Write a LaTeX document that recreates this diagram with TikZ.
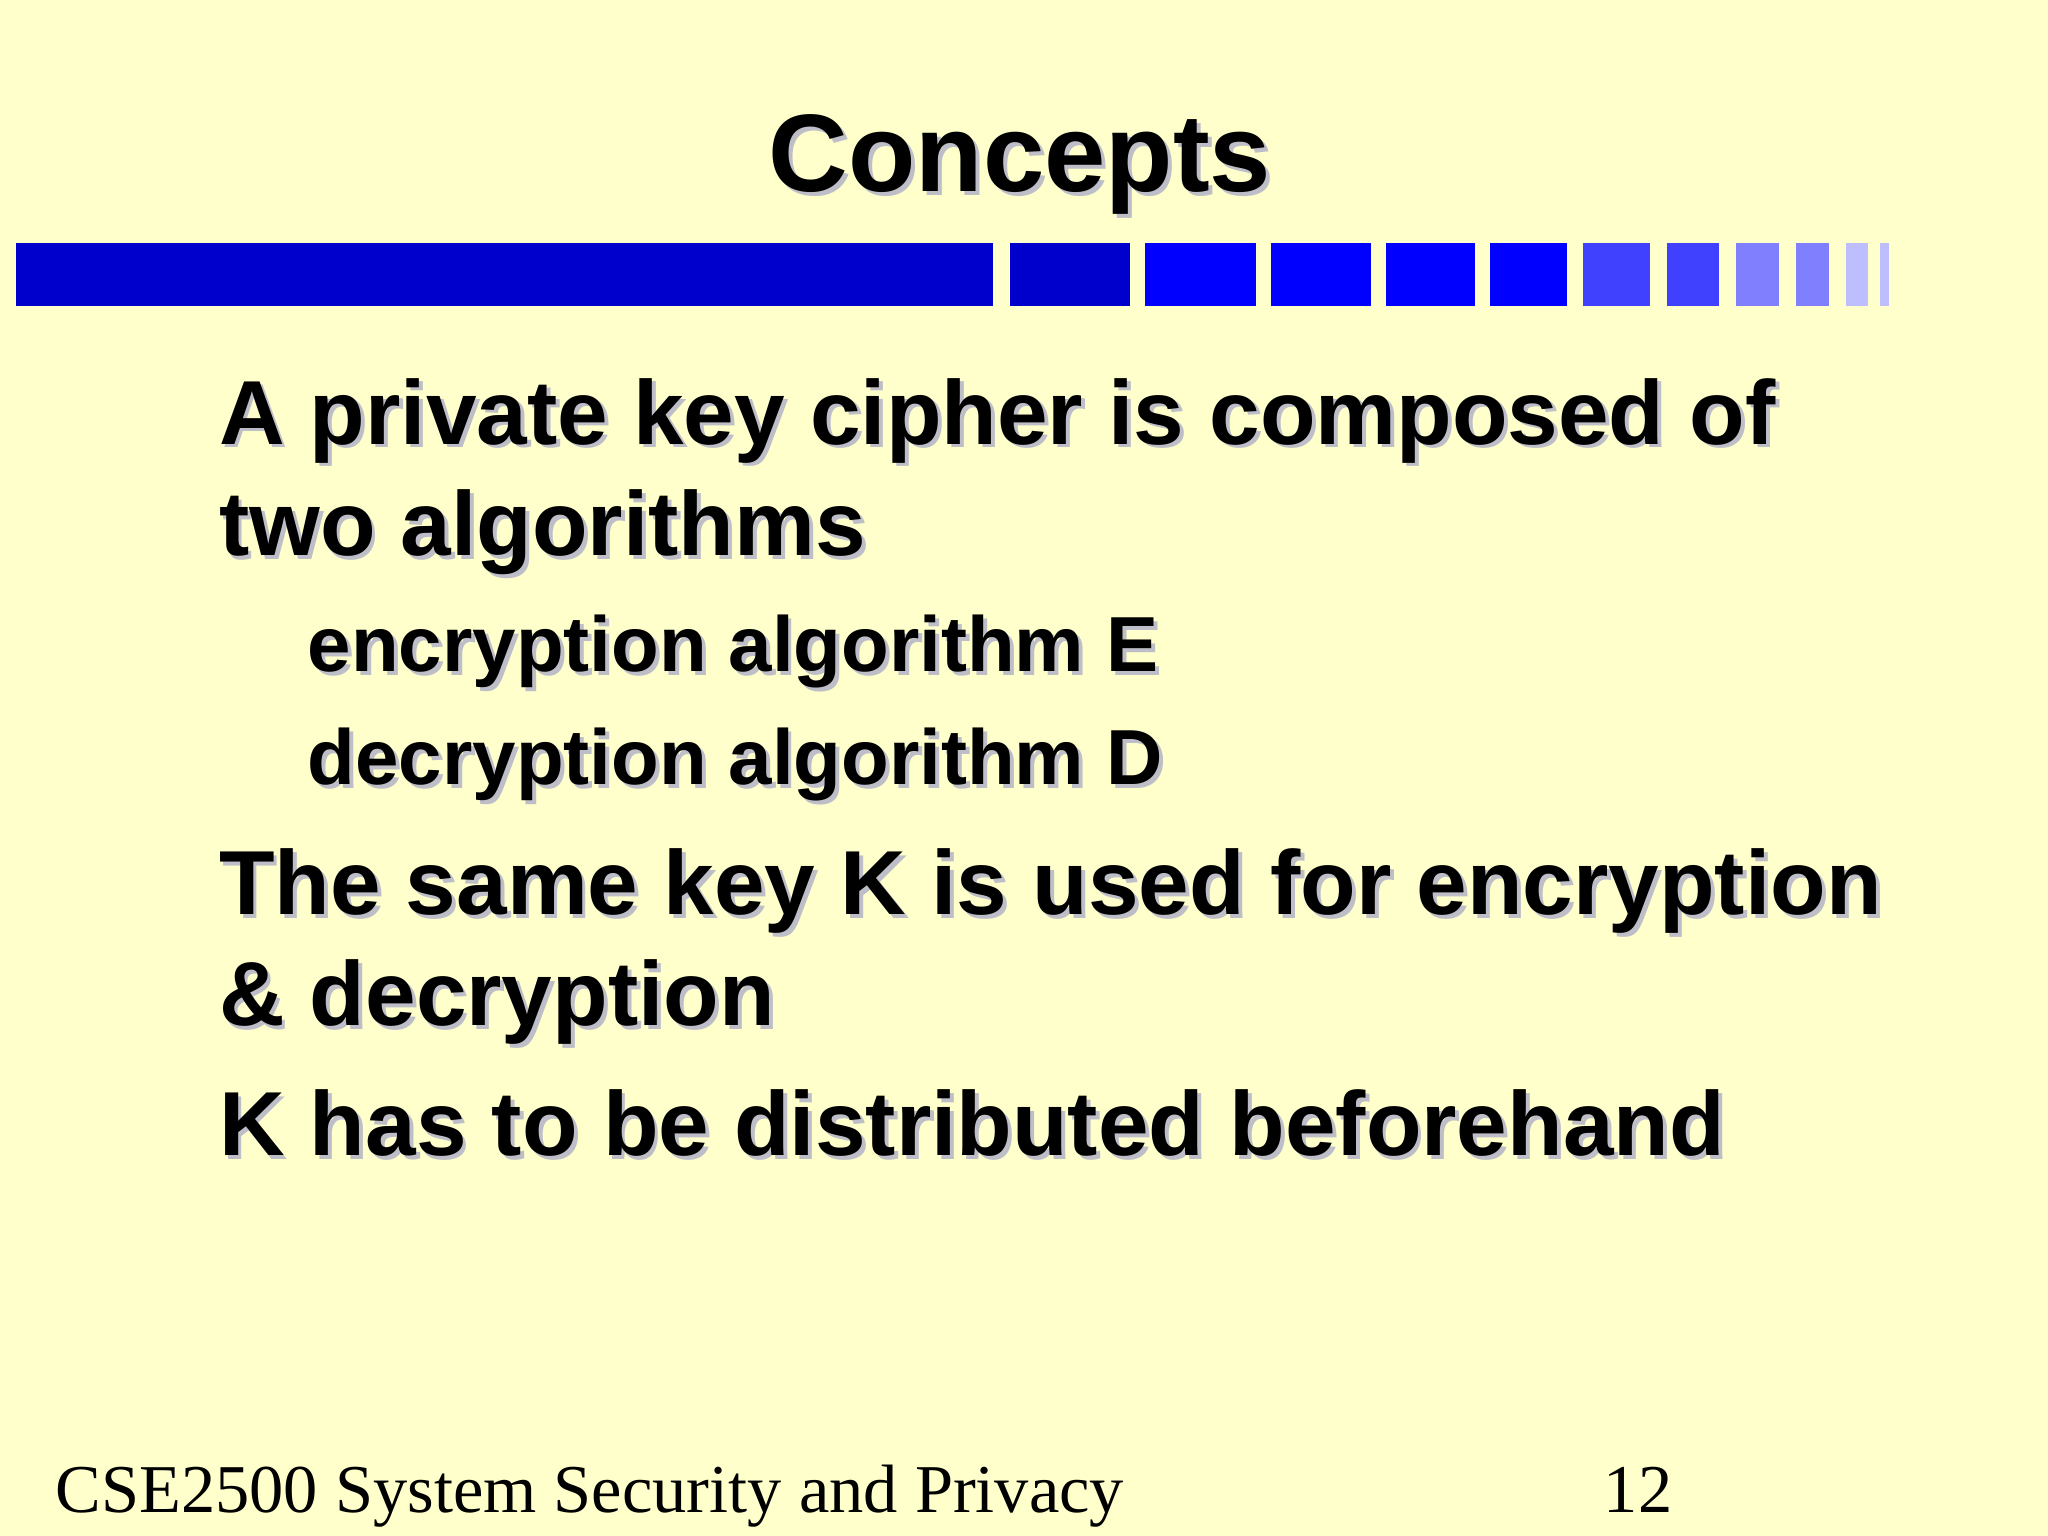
\documentclass[tikz,border=0pt]{standalone}
\usepackage{fontspec}
\setmainfont{Liberation Sans}
\newfontfamily\serif{Liberation Serif}
\definecolor{bg}{RGB}{255,255,204}
\definecolor{dblue}{RGB}{0,0,204}
\definecolor{mblue}{RGB}{0,0,255}
\definecolor{lblue}{RGB}{64,64,255}
\definecolor{llblue}{RGB}{128,128,255}
\definecolor{lllblue}{RGB}{190,190,255}
\definecolor{shad}{RGB}{190,190,200}
\tikzset{
 txt/.style={anchor=base west,inner sep=0pt,font=\bfseries\fontsize{19.8pt}{22pt}\selectfont},
 sub/.style={anchor=base west,inner sep=0pt,font=\bfseries\fontsize{17pt}{19pt}\selectfont},
 sh/.style={text=shad}
}
\newcommand{\shtext}[4]{%
 \node[#1,sh] (#2s) at ($(#3)+(3,3)$) {#4};
 \node[#1] (#2) at (#3) {#4};}
\usetikzlibrary{calc}
\begin{document}
\begin{tikzpicture}[x=0.01cm,y=-0.01cm]
\fill[bg] (0,0) rectangle (1568,1176);
\useasboundingbox (0,0) rectangle (1568,1176);
\foreach \a/\b/\c in {12/760/dblue,773/865/dblue,877/962/mblue,973/1050/mblue,1061/1129/mblue,1141/1200/mblue,1212/1263/lblue,1276/1316/lblue,1329/1362/llblue,1375/1400/llblue,1413/1430/lllblue,1439/1446/lllblue}
 \fill[\c] (\a,186) rectangle (\b,234);
\node[sh,anchor=base,inner sep=0pt,font=\bfseries\fontsize{24pt}{28pt}\selectfont] (titles) at (784,150) {Concepts};
\node[anchor=base,inner sep=0pt,font=\bfseries\fontsize{24pt}{28pt}\selectfont] (title) at (781,147) {Concepts};
\shtext{txt}{l1}{167,340}{A private key cipher is composed of}
\shtext{txt}{l2}{167,425}{two algorithms}
\shtext{sub}{s1}{235,514}{encryption algorithm E}
\shtext{sub}{s2}{235,601}{decryption algorithm D}
\shtext{txt}{l3}{167,700}{The same key K is used for encryption}
\shtext{txt}{l4}{167,785}{\& decryption}
\shtext{txt}{l5}{167,885}{K has to be distributed beforehand}
\node[anchor=base west,inner sep=0pt,font=\serif\fontsize{14.9pt}{18pt}\selectfont] (foot) at (42,1158) {CSE2500 System Security and Privacy};
\node[anchor=base east,inner sep=0pt,font=\serif\fontsize{14.9pt}{18pt}\selectfont] (num) at (1281,1158) {12};
\end{tikzpicture}
\end{document}
